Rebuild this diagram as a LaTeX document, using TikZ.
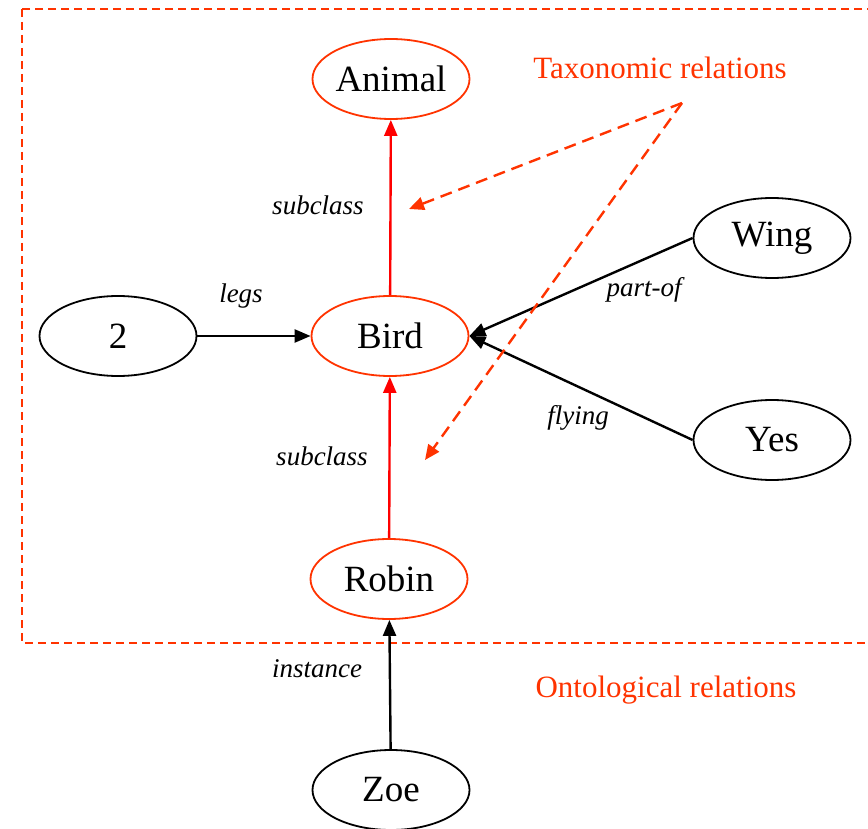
\documentclass[tikz,border=0pt]{standalone}
\usepackage{fontspec}
\setmainfont{Liberation Serif}
\usetikzlibrary{shapes.geometric,arrows.meta}
\definecolor{tangerine}{RGB}{255,51,0}
\definecolor{relred}{RGB}{255,0,0}
\tikzset{
  concept/.style={ellipse,draw=black,line width=1.8pt,minimum width=157pt,minimum height=80pt,
    inner sep=0pt,font=\fontsize{37}{42}\selectfont},
  taxo/.style={concept,draw=tangerine},
  rel/.style={line width=2.4pt,-{Triangle[length=16pt,width=13pt]}},
  redrel/.style={rel,draw=relred,-{Triangle[length=16pt,width=13pt,fill=relred]}},
  lbl/.style={font=\fontsize{27}{31}\selectfont\itshape,inner sep=0pt},
  note/.style={font=\fontsize{31}{35}\selectfont,text=tangerine,inner sep=0pt},
  pointer/.style={draw=tangerine,line width=2.4pt,dash pattern=on 12pt off 7pt,
    -{Triangle[length=15pt,width=13pt,fill=tangerine]}},
}
\begin{document}
\begin{tikzpicture}[x=1pt,y=-1pt]
\useasboundingbox (0,0) rectangle (868,829);
\clip (0,0) rectangle (868,829);

% boundary of the ontological part
\draw[tangerine,line width=1.6pt,dash pattern=on 8pt off 5pt] (22,9) rectangle (900,643);

% concepts
\node[taxo] (animal) at (391,79) {Animal};
\node[taxo] (bird) at (390,336) {Bird};
\node[taxo] (robin) at (389,579) {Robin};
\node[concept] (zoe) at (391,790) {Zoe};
\node[concept] (two) at (118,336) {2};
\node[concept] (wing) at (772,238) {Wing};
\node[concept] (yes) at (772,440) {Yes};

% relations
\draw[redrel] (bird) -- (animal);
\draw[redrel] (robin) -- (bird);
\draw[rel] (zoe) -- (robin);
\draw[rel] (two) -- (bird);
\draw[rel] (wing.west) -- (bird.east);
\draw[rel] (yes.west) -- (bird.east);

% relation labels
\node[lbl] (lsub1) at (318,205) {subclass};
\node[lbl] (llegs) at (241,296) {legs};
\node[lbl] (lpart) at (644,290) {part-of};
\node[lbl] (lfly) at (578,418) {flying};
\node[lbl] (lsub2) at (322,456) {subclass};
\node[lbl] (linst) at (317,669) {instance};

% annotations
\node[note] (taxnote) at (660,68) {Taxonomic relations};
\node[note] (ontnote) at (666,690) {Ontological relations};
\coordinate (tx) at (682,103);
\coordinate (t1) at (409,209);
\coordinate (t2) at (425,460);
\draw[pointer] (tx) -- (t1);
\draw[pointer] (tx) -- (t2);
\end{tikzpicture}
\end{document}
